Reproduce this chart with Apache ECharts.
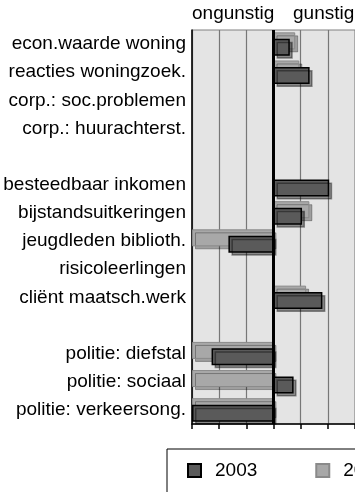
<!DOCTYPE html>
<html>
<head>
<meta charset="utf-8">
<title>ongunstig / gunstig</title>
<script src="https://cdn.jsdelivr.net/npm/echarts@6/dist/echarts.min.js"></script>
<style>
    html, body { margin: 0; padding: 0; background: #fff; }
    #bt01 { width: 355px; height: 492px; }
</style>
</head>
<body>
<div id="bt01"></div>
<script>
// categorieen van boven naar beneden ('' = lege regel)
var categories = ['econ.waarde woning', 'reacties woningzoek.', 'corp.: soc.problemen', 'corp.: huurachterst.', ' ',
    'besteedbaar inkomen', 'bijstandsuitkeringen', 'jeugdleden biblioth.', 'risicoleerlingen', 'cliënt maatsch.werk', '  ',
    'politie: diefstal', 'politie: sociaal', 'politie: verkeersong.'];
var years = ['2003', '2002'];
var data2002 = [0.8, 0.95, null, null, null, null, 1.32, -3, null, 1.2, null, -3, -3, -3];
var data2003 = [0.6, 1.33, null, null, null, 2.05, 1.05, -1.66, null, 1.8, null, -2.28, 0.74, -3];
var topLabels = ['ongunstig', 'gunstig'];

var FONT = "'Liberation Sans', Arial, sans-serif";

function bt01() {
    var myChart = echarts.init(document.getElementById('bt01'));
    var option = {
        animation: false,
        textStyle: { fontFamily: FONT },
        graphic: [{
            type: 'text', left: 192, top: 4,
            style: { text: topLabels[0], font: '19px ' + FONT, fill: '#000' }
        }, {
            type: 'text', left: 293, top: 4,
            style: { text: topLabels[1], font: '19px ' + FONT, fill: '#000' }
        }],
        legend: {
            data: years,
            icon: 'rect',
            left: 167, top: 449,
            width: 260,
            padding: [12, 40, 30, 20],
            borderColor: '#000', borderWidth: 1,
            itemWidth: 13, itemHeight: 13,
            itemGap: 58,
            textStyle: { fontSize: 19, color: '#000', fontFamily: FONT, padding: [0, 0, 0, 9] }
        },
        grid: {
            left: 192, top: 30, width: 164, bottom: 68,
            show: true, backgroundColor: '#e4e4e4', borderWidth: 1, borderColor: '#808080'
        },
        xAxis: {
            type: 'value', min: -3, max: 3, interval: 1,
            axisLine: { show: true, onZero: false, lineStyle: { color: '#000', width: 1.5 } },
            axisTick: { show: true, length: 5, lineStyle: { color: '#000', width: 1.5 } },
            axisLabel: { show: false },
            splitLine: { show: true, lineStyle: { color: '#777', width: 1.2 } }
        },
        yAxis: {
            type: 'category', data: categories, inverse: true,
            axisLine: { show: true, onZero: false, lineStyle: { color: '#000', width: 1.5 } },
            axisTick: { show: false },
            axisLabel: { fontSize: 19, color: '#000', margin: 6, fontFamily: FONT, padding: [4, 0, 0, 0] }
        },
        series: [{
            name: '2002', type: 'bar', data: data2002,
            barWidth: 17, barGap: '-62%',
            itemStyle: {
                color: '#a8a8a8', borderColor: '#8a8a8a', borderWidth: 1,
                shadowColor: 'rgba(0,0,0,0.3)', shadowOffsetX: 3, shadowOffsetY: 3, shadowBlur: 0
            },
            markLine: {
                silent: true, symbol: 'none', label: { show: false },
                lineStyle: { color: '#000', width: 3, type: 'solid' },
                data: [{ xAxis: 0 }]
            }
        }, {
            name: '2003', type: 'bar', data: data2003,
            barWidth: 17, barGap: '-62%',
            itemStyle: {
                color: '#5a5a5a', borderColor: '#000', borderWidth: 1.5,
                shadowColor: 'rgba(0,0,0,0.4)', shadowOffsetX: 3, shadowOffsetY: 3, shadowBlur: 0
            }
        }]
    };
    myChart.setOption(option);
    window.addEventListener("resize", function () {
        myChart.resize();
    });
}

bt01();
</script>
</body>
</html>
